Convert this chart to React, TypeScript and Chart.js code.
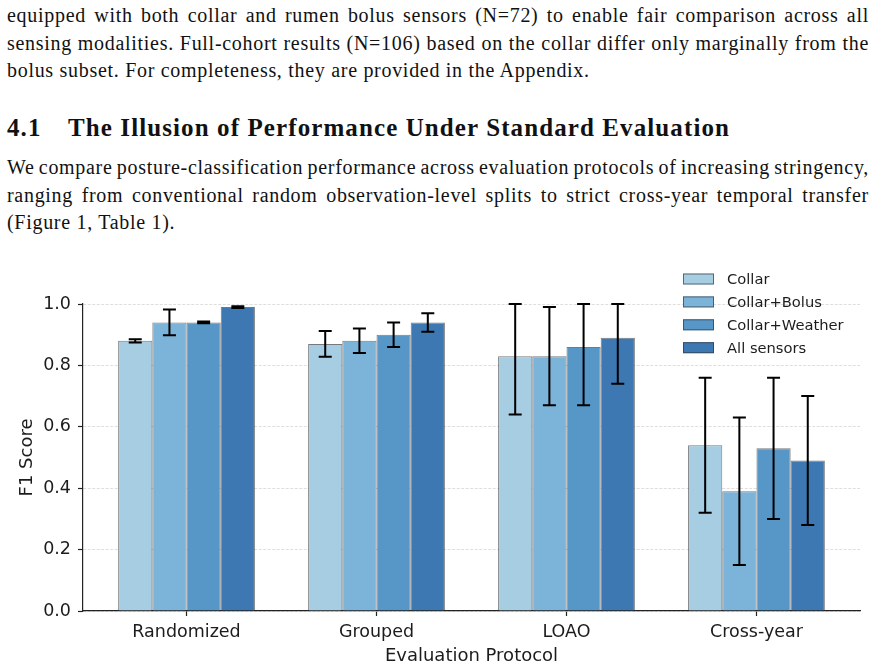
import React, { useEffect, useRef } from "react";
import { Chart, registerables } from "chart.js";

Chart.register(...registerables);

// Evaluation protocols on the x axis
const PROTOCOLS = ["Randomized", "Grouped", "LOAO", "Cross-year"];
// Sensor configurations (one bar series each)
const SENSOR_SETS = ["Collar", "Collar+Bolus", "Collar+Weather", "All sensors"];

// Mean F1 and standard deviation per protocol
const COLLAR_F1 = [0.88, 0.87, 0.83, 0.54];
const COLLAR_SD = [0.005, 0.042, 0.19, 0.22];
const BOLUS_F1 = [0.94, 0.88, 0.83, 0.39];
const BOLUS_SD = [0.042, 0.04, 0.16, 0.24];
const WEATHER_F1 = [0.94, 0.9, 0.86, 0.53];
const WEATHER_SD = [0.003, 0.04, 0.19, 0.23];
const ALL_F1 = [0.99, 0.94, 0.89, 0.49];
const ALL_SD = [0.003, 0.03, 0.15, 0.21];

const Y_TICKS = [0, 0.2, 0.4, 0.6, 0.8, 1.0];

const BAR_COLORS = ["#a7cde3", "#7cb3d9", "#5697c8", "#3e78b3"];
const BAR_EDGE = "rgba(45,50,55,0.65)";
const INK = "#1c1c1c";
const SANS = '"DejaVu Sans", sans-serif';

const SERIES = [
  { mean: COLLAR_F1, sd: COLLAR_SD },
  { mean: BOLUS_F1, sd: BOLUS_SD },
  { mean: WEATHER_F1, sd: WEATHER_SD },
  { mean: ALL_F1, sd: ALL_SD },
];

// Error bars (mean ± sd, upper end capped at F1 = 1)
const errorBarPlugin = {
  id: "errorBars",
  afterDatasetsDraw(chart: any) {
    const { ctx } = chart;
    const yScale = chart.scales.y;
    ctx.save();
    ctx.strokeStyle = "#000";
    ctx.lineWidth = 2;
    chart.data.datasets.forEach((ds: any, di: number) => {
      const meta = chart.getDatasetMeta(di);
      meta.data.forEach((bar: any, i: number) => {
        const m = ds.means[i];
        const s = ds.sds[i];
        const top = yScale.getPixelForValue(Math.min(1, m + s));
        const bot = yScale.getPixelForValue(Math.max(0, m - s));
        const x = bar.x;
        const cap = 6.5;
        ctx.beginPath();
        ctx.moveTo(x, top);
        ctx.lineTo(x, bot);
        ctx.moveTo(x - cap, top);
        ctx.lineTo(x + cap, top);
        ctx.moveTo(x - cap, bot);
        ctx.lineTo(x + cap, bot);
        ctx.stroke();
      });
    });
    ctx.restore();
  },
};

// Legend in the upper right, above the plotting area
const legendPlugin = {
  id: "sensorLegend",
  afterDraw(chart: any) {
    const { ctx, chartArea } = chart;
    const x0 = chartArea.right - 177;
    const y0 = chartArea.top - 25;
    ctx.save();
    ctx.font = `14.7px ${SANS}`;
    ctx.textBaseline = "middle";
    ctx.textAlign = "left";
    SENSOR_SETS.forEach((label, i) => {
      const cy = y0 + i * 22.9;
      ctx.fillStyle = BAR_COLORS[i];
      ctx.fillRect(x0, cy - 5.5, 31, 11);
      ctx.strokeStyle = BAR_EDGE;
      ctx.lineWidth = 1;
      ctx.strokeRect(x0 + 0.5, cy - 5, 30, 10);
      ctx.fillStyle = INK;
      ctx.fillText(label, x0 + 44, cy + 1);
    });
    ctx.restore();
  },
};

function F1Chart() {
  const ref = useRef<HTMLCanvasElement | null>(null);
  useEffect(() => {
    if (!ref.current) return;
    const chart = new Chart(ref.current, {
      type: "bar",
      data: {
        datasets: SERIES.map((s, k) => ({
          label: SENSOR_SETS[k],
          data: s.mean.map((y, i) => ({ x: i, y })),
          means: s.mean,
          sds: s.sd,
          backgroundColor: BAR_COLORS[k],
          borderColor: BAR_EDGE,
          borderWidth: 1,
          categoryPercentage: 0.72,
          barPercentage: 1,
        })) as any,
      },
      options: {
        animation: false,
        responsive: false,
        layout: { padding: { top: 49, right: 15, left: 0, bottom: 0 } },
        plugins: { legend: { display: false }, tooltip: { enabled: false } },
        scales: {
          x: {
            type: "linear",
            min: -0.545,
            max: 3.545,
            offset: false,
            afterBuildTicks: (s: any) => {
              s.ticks = PROTOCOLS.map((_, i) => ({ value: i }));
            },
            afterFit: (s: any) => {
              s.height = 59;
            },
            ticks: {
              autoSkip: false,
              maxRotation: 0,
              padding: 6,
              color: INK,
              font: { family: SANS, size: 17.5 },
              callback: (v: any) => PROTOCOLS[Math.round(Number(v))] ?? "",
            },
            grid: {
              display: true,
              offset: false,
              drawOnChartArea: false,
              drawTicks: true,
              tickLength: 5,
              tickColor: "#222",
              tickWidth: 1.2,
            },
            border: { display: true, color: "#222", width: 1.2 },
            title: {
              display: true,
              text: "Evaluation Protocol",
              color: INK,
              font: { family: SANS, size: 18 },
              padding: { top: 0, bottom: 3 },
            },
          },
          y: {
            min: 0,
            max: 1,
            afterBuildTicks: (s: any) => {
              s.ticks = Y_TICKS.map((v) => ({ value: v }));
            },
            afterFit: (s: any) => {
              s.width = 83;
            },
            ticks: {
              padding: 7,
              color: INK,
              font: { family: SANS, size: 17.5 },
              callback: (v: any) => Number(v).toFixed(1),
            },
            grid: {
              color: "#d6d6d6",
              lineWidth: 0.8,
              drawTicks: true,
              tickLength: 5,
              tickColor: "#222",
              tickWidth: 1.2,
              tickBorderDash: [],
            },
            border: { display: true, color: "#222", width: 1.2, dash: [3, 1.5] },
            title: {
              display: true,
              text: "F1 Score",
              color: INK,
              font: { family: SANS, size: 18 },
              padding: { top: 17, bottom: 0 },
            },
          },
        },
      } as any,
      plugins: [errorBarPlugin, legendPlugin],
    });
    return () => chart.destroy();
  }, []);
  return (
    <canvas
      ref={ref}
      width={875}
      height={415}
      style={{ position: "absolute", left: 0, top: 255, width: 875, height: 415, display: "block" }}
    />
  );
}

const SERIF = '"Liberation Serif", "Times New Roman", serif';

// A justified line of running text: words spread across the full measure
function Line({ text, last }: { text: string; last?: boolean }) {
  if (last) return <div style={{ whiteSpace: "nowrap" }}>{text}</div>;
  return (
    <div style={{ display: "flex", justifyContent: "space-between", whiteSpace: "nowrap" }}>
      {text.split(" ").map((w, i) => (
        <span key={i}>{w}</span>
      ))}
    </div>
  );
}

export default function App() {
  const body: React.CSSProperties = {
    position: "absolute",
    left: 7,
    width: 862,
    fontFamily: SERIF,
    fontSize: 20,
    letterSpacing: "0.7px",
    lineHeight: "27.5px",
    color: "#111",
  };
  return (
    <div style={{ position: "fixed", left: 0, top: 0, width: 875, height: 670, background: "#fff", overflow: "hidden" }}>
      <div style={{ ...body, top: 2 }}>
        <Line text="equipped with both collar and rumen bolus sensors (N=72) to enable fair comparison across all" />
        <Line text="sensing modalities. Full-cohort results (N=106) based on the collar differ only marginally from the" />
        <Line text="bolus subset. For completeness, they are provided in the Appendix." last />
      </div>
      <div
        style={{
          position: "absolute",
          left: 7,
          top: 113,
          fontFamily: SERIF,
          fontWeight: "bold",
          fontSize: 25,
          letterSpacing: "1.1px",
          lineHeight: "30px",
          color: "#111",
          whiteSpace: "nowrap",
        }}
      >
        <span style={{ display: "inline-block", width: 61 }}>4.1</span>
        <span>The Illusion of Performance Under Standard Evaluation</span>
      </div>
      <div style={{ ...body, top: 154 }}>
        <Line text="We compare posture-classification performance across evaluation protocols of increasing stringency," />
        <Line text="ranging from conventional random observation-level splits to strict cross-year temporal transfer" />
        <Line text="(Figure 1, Table 1)." last />
      </div>
      <F1Chart />
    </div>
  );
}
